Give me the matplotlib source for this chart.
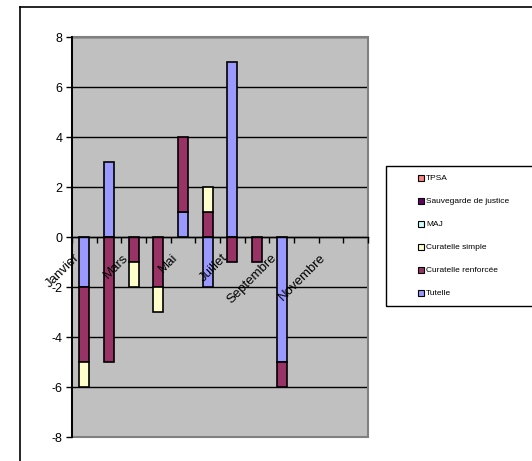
import matplotlib
matplotlib.use("Agg")
import matplotlib.pyplot as plt
import matplotlib.transforms as mtransforms
import numpy as np
from matplotlib.patches import Rectangle
from matplotlib.lines import Line2D

plt.rcParams['font.family'] = ['Liberation Sans', 'DejaVu Sans']

months = ["Janvier", "Février", "Mars", "Avril", "Mai", "Juin", "Juillet",
          "Août", "Septembre", "Octobre", "Novembre", "Décembre"]
series_names = ["Tutelle", "Curatelle renforcée", "Curatelle simple", "MAJ",
                "Sauvegarde de justice", "TPSA"]
tutelle = [-2, 3, 0, 0, 1, -2, 7, 0, -5, 0, 0, 0]
curatelle_renforcee = [-3, -5, -1, -2, 3, 1, -1, -1, -1, 0, 0, 0]
curatelle_simple = [-1, 0, -1, -1, 0, 1, 0, 0, 0, 0, 0, 0]
maj = [0] * 12
sauvegarde = [0] * 12
tpsa = [0] * 12
y_ticks = [-8, -6, -4, -2, 0, 2, 4, 6, 8]

series_values = [tutelle, curatelle_renforcee, curatelle_simple, maj, sauvegarde, tpsa]
colors = ["#9999FF", "#993366", "#FFFFCC", "#CCFFFF", "#660066", "#FF8080"]

W, H = 532, 461
fig = plt.figure(figsize=(W / 100, H / 100), dpi=100)

def fx(px):
    return px / W

def fy(py):
    return 1 - py / H

ax = fig.add_axes([fx(72), fy(437), fx(368) - fx(72), fy(37) - fy(437)])
ax.set_facecolor("#C0C0C0")

x = np.arange(len(months))
pos_base = np.zeros(len(months))
neg_base = np.zeros(len(months))
for name, vals, col in zip(series_names, series_values, colors):
    v = np.array(vals, dtype=float)
    bottoms = np.where(v >= 0, pos_base, neg_base)
    mask = v != 0
    ax.bar(x[mask], v[mask], bottom=bottoms[mask], width=0.4, color=col,
           edgecolor="black", linewidth=1.2, zorder=2)
    pos_base += np.where(v > 0, v, 0)
    neg_base += np.where(v < 0, v, 0)

for yv in y_ticks:
    ax.axhline(yv, color="black", linewidth=1.0, zorder=0.5)

ax.set_xlim(-0.5, len(months) - 0.5)
ax.set_ylim(-8, 8)
ax.set_yticks(y_ticks)
ax.set_yticklabels([str(v) for v in y_ticks], fontsize=9)
ax.tick_params(axis='y', direction='out', length=4, width=1, pad=3, color='black')

ax.set_axisbelow(False)
ax.spines['bottom'].set_position(('data', 0))
ax.spines['bottom'].set_linewidth(1.0)
ax.spines['left'].set_linewidth(1.2)
ax.spines['top'].set_visible(False)
ax.spines['right'].set_visible(False)

ax.set_xticks(x)
ax.set_xticklabels([m if i % 2 == 0 else "" for i, m in enumerate(months)],
                   fontsize=9.5, rotation=45, ha='right', va='top',
                   rotation_mode='anchor')
ax.tick_params(axis='x', which='major', length=0, pad=4)
offset = mtransforms.ScaledTranslation(-11 / 100, -9 / 100, fig.dpi_scale_trans)
for lbl in ax.get_xticklabels():
    lbl.set_transform(lbl.get_transform() + offset)
ax.set_xticks(np.arange(-0.5, len(months) + 0.5, 1), minor=True)
ax.tick_params(axis='x', which='minor', direction='out', length=4, width=1, color='black')

# gray border of plot area
ax.add_patch(Rectangle((0, 0), 1, 1, transform=ax.transAxes, fill=False,
                       edgecolor="#808080", linewidth=1.5, zorder=0.6, clip_on=False))
ax.plot([0, 0], [0, 1], transform=ax.transAxes, color="black", linewidth=1.2,
        zorder=3, clip_on=False)

# outer chart frame
fig.add_artist(Line2D([fx(20), fx(20)], [fy(7), 0], color="black", linewidth=1.2))
fig.add_artist(Line2D([fx(20), 1], [fy(7), fy(7)], color="black", linewidth=1.2))

# legend
fig.add_artist(Rectangle((fx(386), fy(306)), fx(600) - fx(386), fy(166) - fy(306),
                         transform=fig.transFigure, fill=False, edgecolor="black",
                         linewidth=1.0))
legend_y0 = 178
for i, (name, col) in enumerate(list(zip(series_names, colors))[::-1]):
    yy = legend_y0 + 23 * i
    fig.add_artist(Rectangle((fx(418), fy(yy + 3)), fx(6), fy(0) - fy(6),
                             transform=fig.transFigure, facecolor=col,
                             edgecolor="black", linewidth=0.8))
    fig.text(fx(426), fy(yy), name, fontsize=6.0, va='center', ha='left')

fig.savefig("out.png", dpi=100)
